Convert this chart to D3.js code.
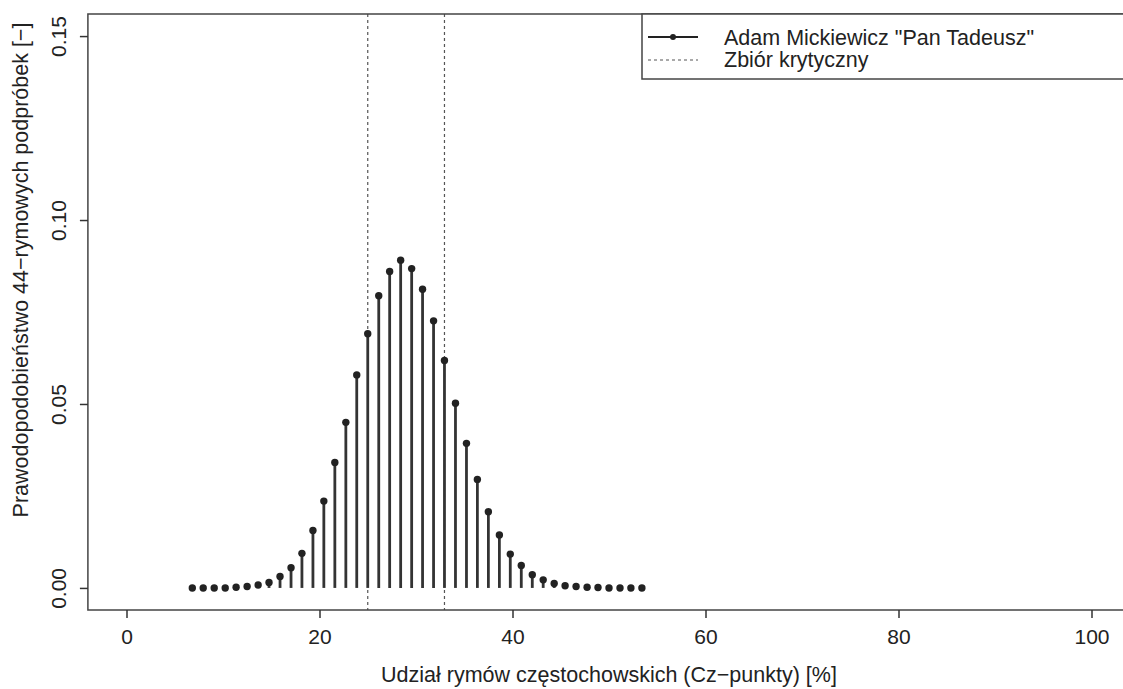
<!DOCTYPE html>
<html>
<head>
<meta charset="utf-8">
<script src="https://cdn.jsdelivr.net/npm/d3@7"></script>
<style>
  body { margin: 0; background: #fff; }
  text { font-family: "Liberation Sans", Arial, sans-serif; fill: #222; }
</style>
</head>
<body>
<div id="chart"></div>
<script>
// share of "Cz" rhymes in 44-rhyme subsamples (%)
const shares = [6.82, 7.95, 9.09, 10.23, 11.36, 12.50, 13.64, 14.77, 15.91, 17.05,
                18.18, 19.32, 20.45, 21.59, 22.73, 23.86, 25.00, 26.14, 27.27, 28.41,
                29.55, 30.68, 31.82, 32.95, 34.09, 35.23, 36.36, 37.50, 38.64, 39.77,
                40.91, 42.05, 43.18, 44.32, 45.45, 46.59, 47.73, 48.86, 50.00, 51.14,
                52.27, 53.41];
const probs = [0.0000, 0.0000, 0.0000, 0.0000, 0.0002, 0.0004, 0.0008, 0.0015, 0.0031, 0.0055,
               0.0094, 0.0156, 0.0236, 0.0341, 0.0450, 0.0579, 0.0691, 0.0794, 0.0860, 0.0891,
               0.0868, 0.0812, 0.0726, 0.0618, 0.0502, 0.0393, 0.0295, 0.0207, 0.0144, 0.0092,
               0.0061, 0.0036, 0.0022, 0.0012, 0.0006, 0.0004, 0.0002, 0.0001, 0.0000, 0.0000,
               0.0000, 0.0000];
// bounds of the critical set
const critical = [25.00, 32.95];

const xTicks = [0, 20, 40, 60, 80, 100];
const yTicks = [0.00, 0.05, 0.10, 0.15];
const legendLabels = ['Adam Mickiewicz "Pan Tadeusz"', "Zbiór krytyczny"];

const data = shares.map((s, i) => ({x: s, p: probs[i]}));

const W = 1123, H = 689;
const FONT = '"Liberation Sans", Arial, sans-serif';
const svg = d3.select("#chart").append("svg")
    .attr("width", W)
    .attr("height", H);

// R style: limits padded by 4%
const x = d3.scaleLinear().domain([-4, 104]).range([87.9, 1130.1]);
const y = d3.scaleLinear().domain([-0.006, 0.156]).range([610, 14]);

const box = {left: x(-4), right: x(104), top: y(0.156), bottom: y(-0.006)};

// vertical dashed lines
svg.selectAll(".crit")
   .data(critical)
   .enter()
   .append("line")
   .attr("x1", d => x(d)).attr("x2", d => x(d))
   .attr("y1", box.top).attr("y2", box.bottom)
   .attr("stroke", "#555")
   .attr("stroke-width", 1.2)
   .attr("stroke-dasharray", "3,3");

// stems
svg.selectAll(".stem")
   .data(data)
   .enter()
   .append("line")
   .attr("x1", d => x(d.x)).attr("x2", d => x(d.x))
   .attr("y1", y(0)).attr("y2", d => y(d.p))
   .attr("stroke", "#333")
   .attr("stroke-width", 2.8);

// points
svg.selectAll(".dot")
   .data(data)
   .enter()
   .append("circle")
   .attr("cx", d => x(d.x))
   .attr("cy", d => y(d.p))
   .attr("r", 3.7)
   .attr("fill", "#222");

// box
svg.append("rect")
   .attr("x", box.left).attr("y", box.top)
   .attr("width", box.right - box.left)
   .attr("height", box.bottom - box.top)
   .attr("fill", "none")
   .attr("stroke", "#444")
   .attr("stroke-width", 1.5);

// X axis
const xAxis = svg.append("g")
   .attr("transform", `translate(0, ${box.bottom})`)
   .call(d3.axisBottom(x).tickValues(xTicks).tickSizeOuter(0).tickSize(8).tickPadding(11));
xAxis.select(".domain").remove();
xAxis.selectAll("line").attr("stroke", "#333").attr("stroke-width", 1.5);
xAxis.selectAll("text").style("font-size", "21px").attr("fill", "#222")
     .style("font-family", FONT);

// Y axis, labels turned like R does by default
const yAxis = svg.append("g")
   .attr("transform", `translate(${box.left}, 0)`)
   .call(d3.axisLeft(y).tickValues(yTicks).tickSizeOuter(0).tickSize(8)
           .tickFormat(d3.format(".2f")));
yAxis.select(".domain").remove();
yAxis.selectAll("line").attr("stroke", "#333").attr("stroke-width", 1.5);
yAxis.selectAll("text")
     .attr("x", null).attr("dy", null)
     .attr("text-anchor", "middle")
     .attr("transform", "translate(-22,0) rotate(-90)")
     .style("font-size", "21px").attr("fill", "#222")
     .style("font-family", FONT);

// axis titles
svg.append("text")
   .attr("x", (box.left + box.right) / 2)
   .attr("y", 682)
   .attr("text-anchor", "middle")
   .style("font-size", "21.5px")
   .text("Udział rymów częstochowskich (Cz−punkty) [%]");

// y title sits a bit above the box centre in the original
svg.append("text")
   .attr("transform", "translate(28, 270) rotate(-90)")
   .attr("text-anchor", "middle")
   .style("font-size", "21.5px")
   .text("Prawodopodobieństwo 44−rymowych podpróbek [−]");

// legend, top right inside the box
const lg = svg.append("g");
lg.append("rect")
  .attr("x", 642).attr("y", box.top)
  .attr("width", box.right - 642).attr("height", 79 - box.top)
  .attr("fill", "#fff")
  .attr("stroke", "#444")
  .attr("stroke-width", 1.5);

lg.append("line")
  .attr("x1", 648).attr("x2", 698).attr("y1", 37).attr("y2", 37)
  .attr("stroke", "#222").attr("stroke-width", 2);
lg.append("circle").attr("cx", 673).attr("cy", 37).attr("r", 3).attr("fill", "#222");
lg.append("line")
  .attr("x1", 648).attr("x2", 698).attr("y1", 60).attr("y2", 60)
  .attr("stroke", "#555").attr("stroke-width", 1.2).attr("stroke-dasharray", "3,3");

lg.selectAll(".lt")
  .data(legendLabels)
  .enter()
  .append("text")
  .attr("x", 724)
  .attr("y", (d, i) => 45 + i * 22)
  .style("font-size", "21.5px")
  .text(d => d);
</script>
</body>
</html>
